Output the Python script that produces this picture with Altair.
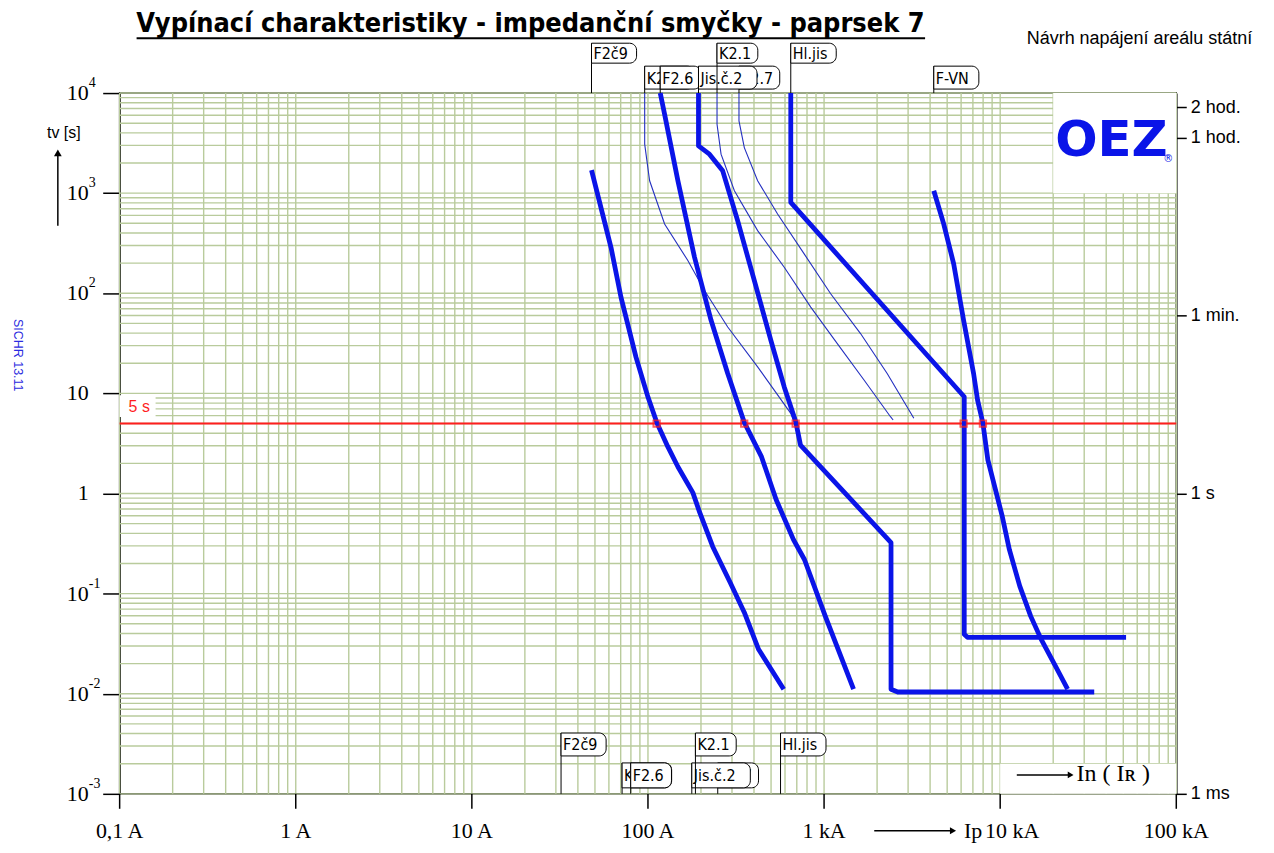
import altair as alt
import pandas as pd

# ------------------------------------------------------------------ data
TITLE = "Vypínací charakteristiky - impedanční smyčky - paprsek 7"
SUBTITLE = "Návrh napájení areálu státní"
SIDE_TEXT = "SICHR 13.11"
LOGO = "OEZ"

x_ticks = [0.1, 1, 10, 100, 1000, 10000, 100000]
x_tick_labels = ["0,1 A", "1 A", "10 A", "100 A", "1 kA", "10 kA", "100 kA"]
y_ticks = [10000, 1000, 100, 10, 1, 0.1, 0.01, 0.001]
y_base = ["10", "10", "10", "10", "1", "10", "10", "10"]
y_exp = ["4", "3", "2", "", "", "-1", "-2", "-3"]
right_ticks = [7200, 3600, 60, 1, 0.001]
right_labels = ["2 hod.", "1 hod.", "1 min.", "1 s", "1 ms"]

limit_time = 5  # s
cross_currents = [112, 352, 690, 6200, 7980]

# thick curves (current A, time s)
f2c9_i = [47.8, 61.7, 70.3, 85.5, 100, 112.5, 129.8, 147.9, 179.8, 196.9, 233.3, 293, 352.5, 424.6, 590]
f2c9_t = [1700, 286, 91, 23.0, 9.19, 5.06, 2.92, 1.85, 1.02, 0.643, 0.294, 0.129, 0.0649, 0.0278, 0.0111]

f26_i = [117.4, 124.3, 147.9, 183.8, 228.2, 283.7, 352.5, 441.6, 534.6, 670, 773.6, 1017, 1470]
f26_t = [10000, 6135, 1330, 229, 53.7, 15.8, 5.12, 2.32, 0.867, 0.346, 0.219, 0.0593, 0.0111]

jis_i = [193.6, 193.6, 223.4, 265.7, 323, 401.5, 498.8, 594, 690.6, 734.5, 2400, 2400, 2620, 34200]
jis_t = [10000, 2967, 2453, 1672, 531.6, 134.3, 33.9, 11.6, 5.21, 3.05, 0.323, 0.0111, 0.0104, 0.0104]

hl_i = [647, 647, 6250, 6250, 6520, 51860]
hl_t = [10000, 808, 9.25, 0.0392, 0.0366, 0.0366]

fvn_i = [4198, 4778, 5445, 6200, 7063, 7441, 7976, 8512, 10280, 11280, 12920, 14900, 17100, 20570, 24150]
fvn_t = [1058, 493, 196.9, 53.7, 15.8, 8.57, 5.06, 2.17, 0.590, 0.275, 0.1187, 0.0596, 0.0349, 0.01897, 0.0111]

# thin curves
k210_i = [95.8, 95.8, 102.2, 124.3, 168.4, 209.4, 283.7, 419.5, 647, 676.7]
k210_t = [10000, 3085, 1330, 493, 212.5, 106.7, 46.0, 18.4, 6.32, 5.2]

k21_i = [246.7, 246.7, 260, 309.6, 419.5, 594, 840, 1189, 1686, 2383, 2467]
k21_t = [10000, 4880, 2453, 1058, 422.6, 182, 72.8, 31.4, 13.6, 5.85, 5.42]

k27_i = [328.7, 328.7, 352.5, 419.5, 544.5, 770.9, 1090, 1611, 2282, 3234]
k27_t = [10000, 5265, 2853, 1330, 619.5, 247.7, 99, 39.6, 15.8, 5.64]

# device labels: top (curve start) and bottom (rated current)
top_names = ["K2.7", "K2.10", "F2.6", "Jis.č.2", "F2č9", "K2.1", "Hl.jis", "F-VN"]
top_currents = [328.7, 95.8, 117.4, 193.6, 47.8, 246.7, 647, 4198]
top_rows = [1, 1, 1, 1, 0, 0, 0, 1]

bot_names = ["F2č9", "K2.10", "F2.6", "K2.7", "Jis.č.2", "K2.1", "Hl.jis"]
bot_currents = [32.1, 71.3, 79.8, 249, 177.4, 186, 566]
bot_rows = [0, 1, 1, 1, 1, 0, 0]

# ------------------------------------------------------------------ styles
W, H = 1060, 703
GRID = "#b9cb9c"
BLUE = "#0a14e8"
THIN = "#2430c0"
RED = "#ff1e1e"
SERIF = "Liberation Serif"
SANS = "Liberation Sans"
NARROW = "Liberation Sans Narrow, DejaVu Sans Condensed, Arial Narrow, sans-serif"

xs = alt.Scale(type="log", domain=[0.1, 100000], nice=False)
ys = alt.Scale(type="log", domain=[0.001, 10000], nice=False)

one = pd.DataFrame({"d": [0]})


def X(field="i", axis=None):
    return alt.X(f"{field}:Q", scale=xs, axis=axis)


def Y(field="t", axis=None):
    return alt.Y(f"{field}:Q", scale=ys, axis=axis)


layers = []

# ---------------- grid (horizontal grid carries the left axis)
gx = [k * 10 ** d for d in range(-1, 5) for k in range(1, 10)] + [100000]
gy = [k * 10.0 ** d for d in range(-3, 4) for k in range(1, 10)] + [10000]
layers.append(alt.Chart(pd.DataFrame({"v": gx})).mark_rule(color=GRID, strokeWidth=1.4)
              .encode(x=X("v")))
y_axis_left = alt.Axis(values=y_ticks, labels=False, tickSize=17, grid=False, orient="left",
                       domainColor="black", tickColor="black", domainWidth=1.5, tickWidth=1.5, title=None)
layers.append(alt.Chart(pd.DataFrame({"v": gy})).mark_rule(color=GRID, strokeWidth=1.4)
              .encode(y=Y("v", y_axis_left)))

right_expr = " : ".join(f"datum.value == {v} ? '{l}'" for v, l in zip(right_ticks, right_labels)) + " : ''"
y_axis_right = alt.Axis(values=right_ticks, labelExpr=right_expr, orient="right", tickSize=10,
                        labelPadding=4, labelFont=SANS, labelFontSize=18, labelColor="black",
                        grid=False, domainColor="black", tickColor="black", domainWidth=1.5,
                        tickWidth=1.5, labelFlush=False, labelOverlap=False, title=None)
layers.append(alt.Chart(pd.DataFrame({"v": right_ticks})).mark_point(opacity=0)
              .encode(y=Y("v", y_axis_right), x=alt.value(0)))

# ---------------- x axis (ticks and labels drawn through the x scale)
xt = pd.DataFrame({"v": x_ticks, "lab": x_tick_labels})
layers.append(alt.Chart(xt).mark_rule(color="black", strokeWidth=1.5)
              .encode(x=X("v"), y=alt.value(H), y2=alt.value(H + 15)))
layers.append(alt.Chart(xt).transform_filter(alt.datum.lab != "10 kA")
              .mark_text(font=SERIF, fontSize=22, align="center", baseline="middle", color="black")
              .encode(x=X("v"), y=alt.value(H + 37), text="lab:N"))
layers.append(alt.Chart(xt).transform_filter(alt.datum.lab == "10 kA")
              .mark_text(font=SERIF, fontSize=22, align="center", baseline="middle", color="black", dx=12)
              .encode(x=X("v"), y=alt.value(H + 37), text="lab:N"))

# ---------------- white patches
patches = pd.DataFrame({
    "x1": [20000, 0.1, 10000], "x2": [100000, 0.16, 100000],
    "y1": [1000, 5.8, 0.001], "y2": [10000, 9.6, 0.002]})
layers.append(alt.Chart(patches).mark_rect(color="white")
              .encode(x=X("x1"), x2="x2:Q", y=Y("y1"), y2="y2:Q"))

# ---------------- 5 s limit
layers.append(alt.Chart(pd.DataFrame({"t": [limit_time]})).mark_rule(color=RED, strokeWidth=2)
              .encode(y=Y("t")))


# ---------------- curves
def curve_df(name, i, t):
    return pd.DataFrame({"name": name, "i": i, "t": t, "o": list(range(len(i)))})


thick = pd.concat([curve_df("F2č9", f2c9_i, f2c9_t), curve_df("F2.6", f26_i, f26_t),
                   curve_df("Jis.č.2", jis_i, jis_t), curve_df("Hl.jis", hl_i, hl_t),
                   curve_df("F-VN", fvn_i, fvn_t)])
thin = pd.concat([curve_df("K2.10", k210_i, k210_t), curve_df("K2.1", k21_i, k21_t),
                  curve_df("K2.7", k27_i, k27_t)])
layers.append(alt.Chart(thin).mark_line(color=THIN, strokeWidth=1.1)
              .encode(x=X(), y=Y(), detail="name:N", order="o:Q"))
layers.append(alt.Chart(thick).mark_line(color=BLUE, strokeWidth=4.8, strokeJoin="round")
              .encode(x=X(), y=Y(), detail="name:N", order="o:Q"))

layers.append(alt.Chart(pd.DataFrame({"i": cross_currents, "t": limit_time}))
              .mark_point(shape="square", filled=False, color=RED, size=40, strokeWidth=2)
              .encode(x=X(), y=Y()))


# ---------------- device labels
def box_w(s):
    narrow = set("il.jI,:")
    return sum(4.5 if c in narrow else 8.8 for c in s) + 10


def label_layers(names, currents, rows, row_box, leader_end):
    out = []
    for nm, cur, r in zip(names, currents, rows):
        top, bot = row_box[r]
        df = pd.DataFrame({"i": [cur], "name": [nm]})
        base = alt.Chart(df)
        out.append(base.mark_rule(color="black", strokeWidth=1)
                   .encode(x=X(), y=alt.value(top), y2=alt.value(leader_end)))
        out.append(base.mark_rect(fill="white", stroke="black", strokeWidth=1, x2Offset=box_w(nm),
                                  cornerRadiusTopRight=7, cornerRadiusBottomRight=7)
                   .encode(x=X(), x2="i:Q", y=alt.value(top), y2=alt.value(bot)))
        out.append(base.mark_text(align="left", baseline="middle", dx=2, font=NARROW, fontSize=16,
                                  color="black")
                   .encode(x=X(), y=alt.value((top + bot) / 2 + 1), text="name:N"))
    return out


layers += label_layers(top_names, top_currents, top_rows, {0: (-50, -30), 1: (-27, -4)}, 0)
layers += label_layers(bot_names, bot_currents, bot_rows, {0: (642, 665), 1: (672, 697)}, H)

# ---------------- left axis labels
left_df = pd.DataFrame({"v": y_ticks, "base": y_base, "exp": y_exp})
layers.append(alt.Chart(left_df).mark_text(align="right", baseline="middle", font=SERIF, fontSize=22,
                                           color="black")
              .encode(x=alt.value(-31), y=Y("v"), text="base:N"))
layers.append(alt.Chart(left_df).mark_text(align="left", baseline="middle", font=SERIF, fontSize=14,
                                           dy=-10, color="black")
              .encode(x=alt.value(-31), y=Y("v"), text="exp:N"))


# ---------------- annotations
def note(text, x, y, **kw):
    return alt.Chart(one).mark_text(text=text, **kw).encode(x=alt.value(x), y=alt.value(y))


layers.append(note(TITLE, 412, -61, font=NARROW, fontSize=27, fontWeight="bold", align="center",
                   baseline="alphabetic", color="black"))
layers.append(alt.Chart(one).mark_rule(color="black", strokeWidth=2)
              .encode(x=alt.value(17), x2=alt.value(808), y=alt.value(-55)))
layers.append(note(SUBTITLE, 910, -54, font=SANS, fontSize=18, align="left", baseline="middle",
                   color="black"))
layers.append(note(SIDE_TEXT, -102, 263, font=SANS, fontSize=12.5, angle=90, align="center",
                   baseline="middle", color="#2b2be0"))
layers.append(note("tv [s]", -56, 40, font=SANS, fontSize=16, align="center", baseline="middle",
                   color="black"))
layers.append(alt.Chart(one).mark_rule(color="black", strokeWidth=1.5)
              .encode(x=alt.value(-62), y=alt.value(62), y2=alt.value(133)))
layers.append(alt.Chart(one).mark_point(shape="triangle-up", filled=True, color="black", size=60, opacity=1)
              .encode(x=alt.value(-62), y=alt.value(60)))
layers.append(note("5 s", 9, 315, font=SANS, fontSize=16, align="left", baseline="middle", color=RED))

# Ip arrow under the axis
layers.append(alt.Chart(one).mark_rule(color="black", strokeWidth=1.5)
              .encode(x=alt.value(757), x2=alt.value(834), y=alt.value(740)))
layers.append(alt.Chart(one).mark_point(shape="triangle-right", filled=True, color="black", size=50, opacity=1)
              .encode(x=alt.value(836), y=alt.value(740)))
layers.append(note("Ip", 847, 740, font=SERIF, fontSize=22, align="left", baseline="middle", color="black"))

# In(IR) arrow bottom right
layers.append(alt.Chart(one).mark_rule(color="black", strokeWidth=1.5)
              .encode(x=alt.value(900), x2=alt.value(952), y=alt.value(684)))
layers.append(alt.Chart(one).mark_point(shape="triangle-right", filled=True, color="black", size=45, opacity=1)
              .encode(x=alt.value(954), y=alt.value(684)))
layers.append(note("In ( Iʀ )", 960, 683, font=SERIF, fontSize=24, align="left", baseline="middle",
                   color="black"))

# OEZ logo
layers.append(note(LOGO, 995, 48, font="DejaVu Sans", fontSize=50, fontWeight="bold", align="center",
                   baseline="middle", color="#0a14e8"))
layers.append(note("®", 1052, 66, font="DejaVu Sans", fontSize=10, align="center", baseline="middle",
                   color="#0a14e8"))

chart = (alt.layer(*layers)
         .resolve_axis(y="independent")
         .properties(width=W, height=H,
                     padding={"left": 112, "top": 84, "right": 90, "bottom": 50},
                     autosize=alt.AutoSizeParams(type="none"))
         .configure_view(stroke="black", strokeWidth=1.5))

chart.save("out.html", embed_options={"renderer": "svg", "actions": False})
